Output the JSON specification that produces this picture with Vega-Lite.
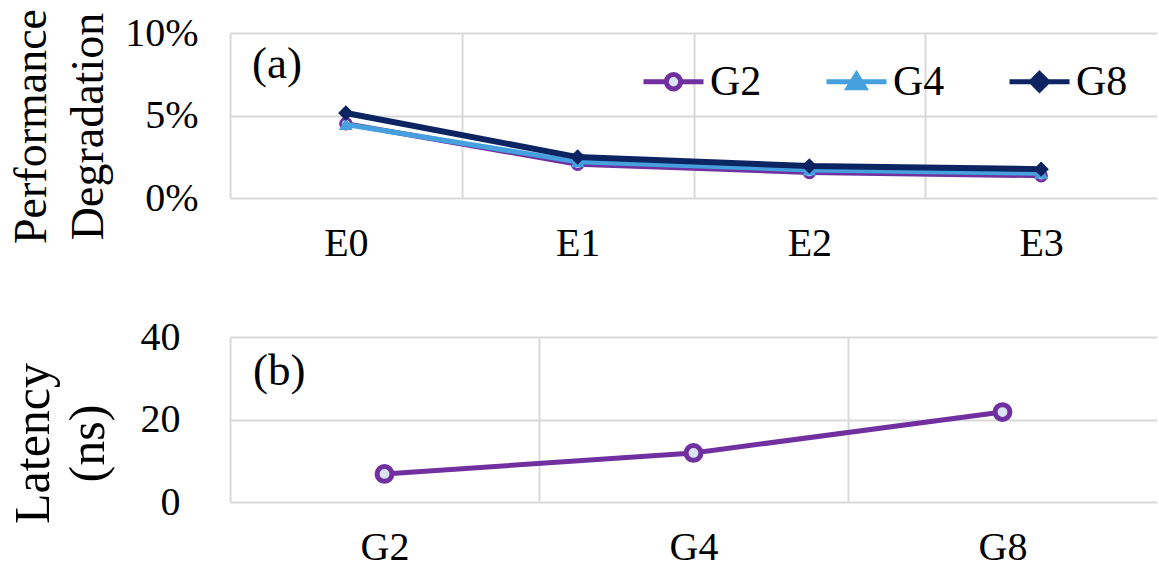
{
  "$schema": "https://vega.github.io/schema/vega-lite/v6.json",
  "padding": {"left": 8, "top": 8, "right": 0, "bottom": 0},
  "background": "white",
  "columns": 1,
  "align": "none",
  "spacing": 54,
  "config": {
    "view": {"stroke": null},
    "font": "Liberation Serif, Times New Roman, serif",
    "axis": {
      "labelFont": "Liberation Serif, Times New Roman, serif", "labelFontSize": 40, "labelColor": "black",
      "titleFont": "Liberation Serif, Times New Roman, serif", "titleFontSize": 46, "titleFontWeight": "normal", "titleColor": "black",
      "domain": false, "ticks": false, "tickSize": 0,
      "gridColor": "#d9d9d9", "gridWidth": 2
    },
    "legend": {
      "labelFont": "Liberation Serif, Times New Roman, serif", "labelFontSize": 42, "labelColor": "black",
      "symbolOpacity": 1
    }
  },
  "concat": [
    {
      "width": 927, "height": 165,
      "data": {"values": [
        {"cond": "E0", "series": "G2", "value": 0.045},
        {"cond": "E1", "series": "G2", "value": 0.0205},
        {"cond": "E2", "series": "G2", "value": 0.0155},
        {"cond": "E3", "series": "G2", "value": 0.0135},
        {"cond": "E0", "series": "G4", "value": 0.0445},
        {"cond": "E1", "series": "G4", "value": 0.022},
        {"cond": "E2", "series": "G4", "value": 0.017},
        {"cond": "E3", "series": "G4", "value": 0.015},
        {"cond": "E0", "series": "G8", "value": 0.0515},
        {"cond": "E1", "series": "G8", "value": 0.0248},
        {"cond": "E2", "series": "G8", "value": 0.0194},
        {"cond": "E3", "series": "G8", "value": 0.0175}
      ]},
      "encoding": {
        "x": {"field": "cond", "type": "nominal", "sort": ["E0", "E1", "E2", "E3"],
          "scale": {"type": "band", "paddingInner": 0, "paddingOuter": 0},
          "axis": {"title": null, "labelAngle": 0, "labelPadding": 25, "tickBand": "extent", "grid": true,
            "gridOpacity": {"condition": {"test": "datum.value === 'E3' && !datum.extra", "value": 0}, "value": 1}}},
        "y": {"field": "value", "type": "quantitative",
          "scale": {"domain": [0, 0.1]},
          "axis": {"values": [0, 0.05, 0.1], "format": ".0%", "title": ["Performance", "Degradation"],
            "titleLineHeight": 57, "labelPadding": 32, "titlePadding": 12, "titleY": 93}}
      },
      "layer": [
        {"transform": [{"filter": "datum.series === 'G2'"}], "mark": {"type": "line", "color": "#7030a0", "strokeWidth": 5}},
        {"transform": [{"filter": "datum.series === 'G2'"}], "mark": {"type": "point", "shape": "circle", "filled": true, "fill": "#dae3f3", "stroke": "#7030a0", "strokeWidth": 3, "size": 110, "opacity": 1}},
        {"transform": [{"filter": "datum.series === 'G4'"}], "mark": {"type": "line", "color": "#45a0dd", "strokeWidth": 5}},
        {"transform": [{"filter": "datum.series === 'G4'"}], "mark": {"type": "point", "shape": "triangle-up", "filled": true, "fill": "#45a0dd", "stroke": "#45a0dd", "strokeWidth": 2, "size": 110, "opacity": 1}},
        {"transform": [{"filter": "datum.series === 'G8'"}], "mark": {"type": "line", "color": "#0c2461", "strokeWidth": 6}},
        {"transform": [{"filter": "datum.series === 'G8'"}], "mark": {"type": "point", "shape": "diamond", "filled": true, "fill": "#0c2461", "stroke": "#0c2461", "strokeWidth": 2, "size": 160, "opacity": 1}},
        {
          "mark": {"type": "point", "filled": true, "strokeWidth": 5},
          "encoding": {
            "opacity": {"value": 0},
            "shape": {"field": "series", "type": "nominal",
              "scale": {"domain": ["G2", "G4", "G8"], "range": [
                "M-1,0H-0.24M0.24,0H1M0.24,0A0.24,0.24,0,1,1,-0.24,0A0.24,0.24,0,1,1,0.24,0Z",
                "M-1,0H1M0,-0.24L0.27,0.2L-0.27,0.2Z",
                "M-1,0H1M0,-0.27L0.27,0L0,0.27L-0.27,0Z"
              ]},
              "legend": {"orient": "none", "legendX": 411, "legendY": 16, "direction": "horizontal", "title": null,
                "symbolSize": 3600, "symbolStrokeWidth": 5, "labelOffset": 4, "columnPadding": 54, "padding": 0}},
            "fill": {"field": "series", "type": "nominal",
              "scale": {"domain": ["G2", "G4", "G8"], "range": ["#dae3f3", "#45a0dd", "#0c2461"]}},
            "stroke": {"field": "series", "type": "nominal",
              "scale": {"domain": ["G2", "G4", "G8"], "range": ["#7030a0", "#45a0dd", "#0c2461"]}}
          }
        },
        {
          "data": {"values": [{"cond": "E0", "value": 0.081, "label": "(a)"}]},
          "mark": {"type": "text", "font": "Liberation Serif, Times New Roman, serif", "fontSize": 45, "align": "left", "baseline": "middle", "dx": 22, "color": "black"},
          "encoding": {
            "x": {"field": "cond", "type": "nominal", "bandPosition": 0},
            "y": {"field": "value", "type": "quantitative"},
            "text": {"field": "label"}
          }
        }
      ]
    },
    {
      "width": 927, "height": 165,
      "data": {"values": [
        {"group": "G2", "latency": 6.8},
        {"group": "G4", "latency": 11.9},
        {"group": "G8", "latency": 21.8}
      ]},
      "encoding": {
        "x": {"field": "group", "type": "nominal", "sort": ["G2", "G4", "G8"],
          "scale": {"type": "band", "paddingInner": 0, "paddingOuter": 0},
          "axis": {"title": null, "labelAngle": 0, "labelPadding": 25, "tickBand": "extent", "grid": true,
            "gridOpacity": {"condition": {"test": "datum.value === 'G8' && !datum.extra", "value": 0}, "value": 1}}},
        "y": {"field": "latency", "type": "quantitative",
          "scale": {"domain": [0, 40]},
          "axis": {"values": [0, 20, 40], "title": ["Latency", "(ns)"], "titleFontSize": 50,
            "titleLineHeight": 55, "labelPadding": 50, "titlePadding": 27, "titleY": 106}}
      },
      "layer": [
        {"mark": {"type": "line", "color": "#7030a0", "strokeWidth": 5}},
        {"mark": {"type": "point", "shape": "circle", "filled": true, "fill": "#dae3f3", "stroke": "#7030a0", "strokeWidth": 5, "size": 220, "opacity": 1}},
        {
          "data": {"values": [{"group": "G2", "latency": 31.8, "label": "(b)"}]},
          "mark": {"type": "text", "font": "Liberation Serif, Times New Roman, serif", "fontSize": 45, "align": "left", "baseline": "middle", "dx": 23, "color": "black"},
          "encoding": {
            "x": {"field": "group", "type": "nominal", "bandPosition": 0},
            "y": {"field": "latency", "type": "quantitative"},
            "text": {"field": "label"}
          }
        }
      ]
    }
  ]
}
